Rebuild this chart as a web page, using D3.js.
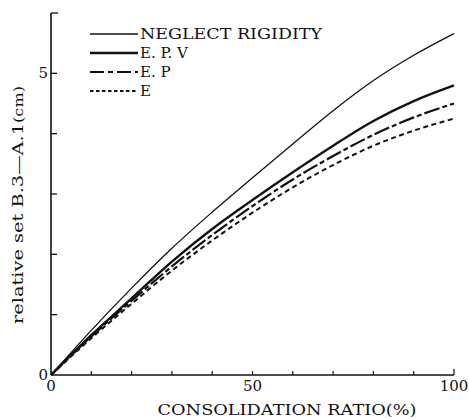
<!DOCTYPE html>
<html><head><meta charset="utf-8">
<script src="https://cdn.jsdelivr.net/npm/d3@7"></script>
<style>body{margin:0;background:#fff}svg{display:block}</style>
</head><body><svg id="c" width="469" height="419"></svg>
<script>
const ratio = [0,10,20,30,40,50,60,70,80,90,100];
const neglect = [0,0.74,1.44,2.10,2.70,3.27,3.83,4.38,4.88,5.30,5.66];
const epv     = [0,0.66,1.27,1.88,2.42,2.90,3.36,3.80,4.21,4.54,4.80];
const ep      = [0,0.64,1.23,1.80,2.32,2.80,3.24,3.63,3.98,4.27,4.50];
const e       = [0,0.61,1.18,1.73,2.23,2.69,3.11,3.48,3.80,4.05,4.25];
const seriesNames = ["NEGLECT RIGIDITY","E. P. V","E. P","E"];
const xTickLabels = [0,50,100];
const yTickLabels = [0,5];

const FONT = "'DejaVu Serif','Liberation Serif',serif";
const svg = d3.select("#c");
const x = d3.scaleLinear().domain([0,100]).range([51,454]);
const y = d3.scaleLinear().domain([0,6]).range([375,13]);

const series = [
  {name:seriesNames[0], v:neglect, w:1.3, dash:null, ldash:null},
  {name:seriesNames[1], v:epv, w:2.4, dash:null, ldash:null},
  {name:seriesNames[2], v:ep, w:2.2, dash:"16,3,5,3", ldash:"14,4,5,4"},
  {name:seriesNames[3], v:e, w:2.0, dash:"5,3.5", ldash:"3.5,2.5"}
];

// axes
const g = svg.append("g").attr("stroke","#111").attr("fill","none");
g.append("line").attr("x1",x(0)).attr("x2",x(100)).attr("y1",y(0)).attr("y2",y(0)).attr("stroke-width",1.6);
g.append("line").attr("x1",x(0)).attr("x2",x(0)).attr("y1",y(0)).attr("y2",y(6)).attr("stroke-width",1.6);
d3.range(10,101,10).forEach(t=>{
  g.append("line").attr("x1",x(t)).attr("x2",x(t)).attr("y1",y(0)).attr("y2",y(0)-(t===100?6:4)).attr("stroke-width",1.2);
});
d3.range(1,7).forEach(t=>{
  g.append("line").attr("x1",x(0)).attr("x2",x(0)+(t===6?7:6)).attr("y1",y(t)).attr("y2",y(t)).attr("stroke-width",1.3);
});

const txt = (xx,yy,s,size,anchor)=>svg.append("text").attr("x",xx).attr("y",yy)
  .attr("font-family",FONT).attr("font-size",size).attr("fill","#111")
  .attr("text-anchor",anchor||"start").text(s);

// tick labels
xTickLabels.forEach(t=>txt(x(t),391,t,15,"middle"));
yTickLabels.forEach(t=>txt(x(0)-3,y(t)+5,t,15,"end"));

txt(287,415,"CONSOLIDATION RATIO(%)",15,"middle").attr("textLength",259).attr("lengthAdjust","spacingAndGlyphs");

const yl = svg.append("text").attr("transform","translate(23,205) rotate(-90)")
  .attr("text-anchor","middle").attr("font-family",FONT).attr("font-size",15).attr("fill","#111")
  .attr("textLength",238).attr("lengthAdjust","spacingAndGlyphs");
yl.append("tspan").text("relative set  B.3—A.1");
yl.append("tspan").attr("font-size",12.5).text("(cm)");

// lines
const line = d3.line().x((d,i)=>x(ratio[i])).y(d=>y(d)).curve(d3.curveMonotoneX);
series.forEach(s=>{
  svg.append("path").datum(s.v).attr("d",line).attr("fill","none").attr("stroke","#111")
    .attr("stroke-width",s.w).attr("stroke-dasharray",s.dash);
});

// legend
series.forEach((s,i)=>{
  const yy = 34 + i*19;
  svg.append("line").attr("x1",90).attr("x2",138).attr("y1",yy).attr("y2",yy).attr("stroke","#111")
    .attr("stroke-width",s.w).attr("stroke-dasharray",s.ldash);
  const t = txt(140,yy+5,s.name,15);
  if(i===0) t.attr("textLength",182).attr("lengthAdjust","spacingAndGlyphs");
});
</script></body></html>
